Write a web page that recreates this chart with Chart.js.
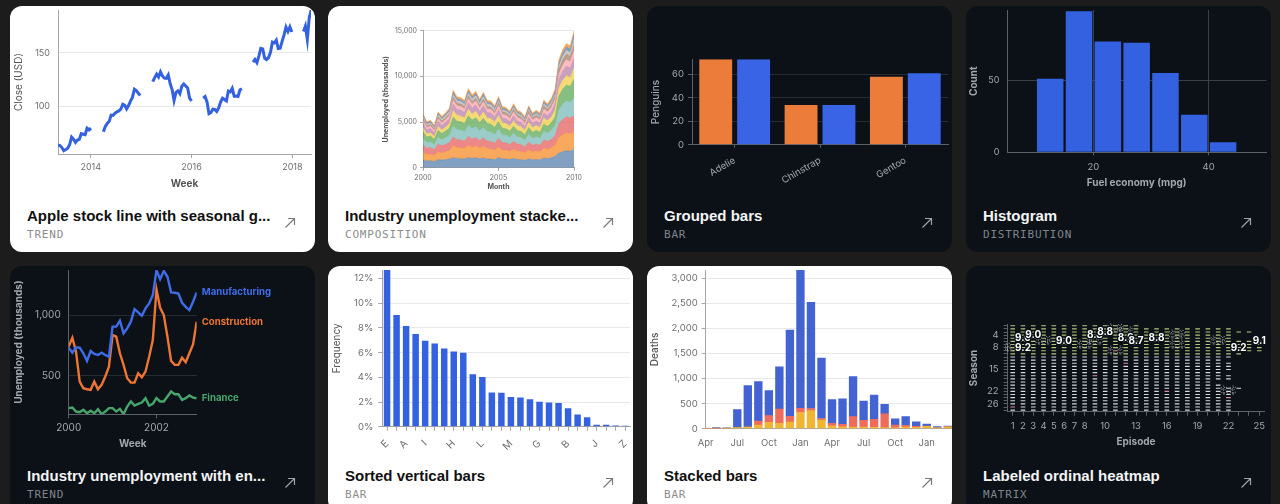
<!DOCTYPE html>
<html>
<head>
<meta charset="utf-8">
<script src="https://cdn.jsdelivr.net/npm/chart.js@4.4.1/dist/chart.umd.min.js"></script>
<style>
  html, body { margin: 0; padding: 0; background: #1c1c1c; width: 1280px; height: 504px; overflow: hidden; }
  .card { position: absolute; width: 305px; height: 246px; border-radius: 12px; overflow: hidden; }
  .light { background: #ffffff; }
  .dark { background: #0b1117; }
  .card canvas { position: absolute; left: 0; top: 0; }
  .title { position: absolute; left: 17px; top: 201px; font: bold 15px "Liberation Sans", Arial, sans-serif; line-height: 18px; white-space: nowrap; }
  .kind { position: absolute; left: 17px; top: 222px; font: 11px "DejaVu Sans Mono", monospace; line-height: 14px; letter-spacing: 0.8px; }
  .light .title { color: #111111; }
  .dark .title { color: #f3f4f5; }
  .light .kind { color: #8c8c8c; }
  .dark .kind { color: #7f858c; }
  .arrow { position: absolute; left: 274px; top: 211px; }
  .light .arrow { color: #7a7a7a; }
  .dark .arrow { color: #9ea3a9; }
</style>
</head>
<body>

<div class="card light" style="left:10px;top:6px">
  <canvas id="c1" width="305" height="192"></canvas>
  <div class="title">Apple stock line with seasonal g...</div>
  <div class="kind">TREND</div>
  <svg class="arrow" width="12" height="12" viewBox="0 0 12 12"><path d="M1.5 10.5 L10.5 1.5 M4 1.5 H10.5 V8" fill="none" stroke="currentColor" stroke-width="1.2"/></svg>
</div>

<div class="card light" style="left:328px;top:6px">
  <canvas id="c2" width="305" height="192"></canvas>
  <div class="title">Industry unemployment stacke...</div>
  <div class="kind">COMPOSITION</div>
  <svg class="arrow" width="12" height="12" viewBox="0 0 12 12"><path d="M1.5 10.5 L10.5 1.5 M4 1.5 H10.5 V8" fill="none" stroke="currentColor" stroke-width="1.2"/></svg>
</div>

<div class="card dark" style="left:647px;top:6px">
  <canvas id="c3" width="305" height="196"></canvas>
  <div class="title">Grouped bars</div>
  <div class="kind">BAR</div>
  <svg class="arrow" width="12" height="12" viewBox="0 0 12 12"><path d="M1.5 10.5 L10.5 1.5 M4 1.5 H10.5 V8" fill="none" stroke="currentColor" stroke-width="1.2"/></svg>
</div>

<div class="card dark" style="left:966px;top:6px">
  <canvas id="c4" width="305" height="192"></canvas>
  <div class="title">Histogram</div>
  <div class="kind">DISTRIBUTION</div>
  <svg class="arrow" width="12" height="12" viewBox="0 0 12 12"><path d="M1.5 10.5 L10.5 1.5 M4 1.5 H10.5 V8" fill="none" stroke="currentColor" stroke-width="1.2"/></svg>
</div>

<div class="card dark" style="left:10px;top:266px">
  <canvas id="c5" width="305" height="192"></canvas>
  <div class="title">Industry unemployment with en...</div>
  <div class="kind">TREND</div>
  <svg class="arrow" width="12" height="12" viewBox="0 0 12 12"><path d="M1.5 10.5 L10.5 1.5 M4 1.5 H10.5 V8" fill="none" stroke="currentColor" stroke-width="1.2"/></svg>
</div>

<div class="card light" style="left:328px;top:266px">
  <canvas id="c6" width="305" height="196"></canvas>
  <div class="title">Sorted vertical bars</div>
  <div class="kind">BAR</div>
  <svg class="arrow" width="12" height="12" viewBox="0 0 12 12"><path d="M1.5 10.5 L10.5 1.5 M4 1.5 H10.5 V8" fill="none" stroke="currentColor" stroke-width="1.2"/></svg>
</div>

<div class="card light" style="left:647px;top:266px">
  <canvas id="c7" width="305" height="196"></canvas>
  <div class="title">Stacked bars</div>
  <div class="kind">BAR</div>
  <svg class="arrow" width="12" height="12" viewBox="0 0 12 12"><path d="M1.5 10.5 L10.5 1.5 M4 1.5 H10.5 V8" fill="none" stroke="currentColor" stroke-width="1.2"/></svg>
</div>

<div class="card dark" style="left:966px;top:266px">
  <canvas id="c8" width="305" height="192"></canvas>
  <div class="title">Labeled ordinal heatmap</div>
  <div class="kind">MATRIX</div>
  <svg class="arrow" width="12" height="12" viewBox="0 0 12 12"><path d="M1.5 10.5 L10.5 1.5 M4 1.5 H10.5 V8" fill="none" stroke="currentColor" stroke-width="1.2"/></svg>
</div>

<script>
// ---- data ----

// Apple close, sampled every second week; one list per Apr-Dec stretch
const appleStarts = [2013.35, 2014.25, 2015.23, 2016.23, 2017.22, 2018.22]
const appleClose = [
  [64.3, 63.9, 62.0, 59.1, 60.1, 61.4, 64.6, 71.7, 69.7, 66.8, 69.0, 69.7, 75.0, 74.4, 74.0, 80.0, 78.4, 80.1],
  [76.7, 81.7, 84.5, 86.4, 92.2, 91.9, 94.0, 95.2, 96.1, 97.7, 102.2, 101.4, 98.0, 101.0, 105.2, 108.7, 116.3, 115.0, 112.7, 110.4],
  [123.3, 127.1, 130.3, 127.6, 132.5, 128.7, 126.6, 126.4, 129.6, 121.3, 115.9, 105.8, 113.3, 114.7, 112.1, 119.1, 121.1, 119.3, 117.5, 108.0, 105.3],
  [108.0, 109.5, 104.5, 93.5, 94.5, 97.7, 97.5, 95.6, 98.8, 104.3, 107.9, 106.7, 105.4, 114.6, 113.9, 117.1, 109.8, 109.9, 109.5, 115.8, 116.7],
  [141.4, 144.0, 141.0, 147.1, 154.3, 153.8, 145.0, 143.8, 145.7, 150.7, 160.1, 159.3, 161.9, 154.1, 154.5, 160.8, 166.9, 174.1, 170.0, 174.3, 169.6],
  [170.0, 175.0, 162.5, 183.0, 190.0]
]
const appleXTicks = [2014, 2016, 2018]
const appleYTicks = [100, 150]

// unemployment by industry, quarterly from Jan 2000 to Jan 2010 (thousands)
const unempIndustries = ['Wholesale and Retail Trade', 'Manufacturing', 'Leisure and hospitality', 'Business services',
  'Construction', 'Education and Health', 'Government', 'Finance', 'Self-employed', 'Other',
  'Transportation and Utilities', 'Information']
const unempBands = [
  [870,740,770,680, 900,830,890,960, 1100,1010,990,960, 1120,1030,1080,970, 1070,960,940,880, 1120,970,950,890, 1010,910,880,810, 980,860,910,860, 1070,1010,1090,1240, 1600,1750,1850,1810, 2000],
  [820,700,720,640, 850,780,830,900, 1300,1190,1180,1130, 1330,1220,1290,1150, 1270,1130,1120,1040, 1120,960,950,890, 1010,910,880,810, 980,860,910,860, 1070,1010,1090,1240, 1700,1860,1960,1920, 1900],
  [820,700,720,640, 850,780,830,900, 950,870,860,830, 970,900,940,840, 930,830,820,760, 950,820,810,760, 850,770,740,680, 830,730,770,730, 900,850,930,1050, 1520,1660,1750,1720, 1800],
  [720,610,630,560, 740,680,730,790, 1200,1100,1090,1040, 1230,1130,1180,1060, 1170,1040,1030,960, 1010,860,850,800, 900,810,790,720, 880,770,810,770, 950,900,980,1110, 1520,1660,1750,1720, 1900],
  [720,610,630,560, 740,680,730,790, 1000,920,910,870, 1030,940,990,890, 980,870,860,800, 840,720,710,670, 760,680,660,600, 730,650,680,650, 800,760,820,930, 1520,1660,1750,1720, 2100],
  [410,350,360,320, 430,390,420,460, 700,640,630,610, 710,660,690,620, 680,610,600,560, 670,580,570,530, 600,540,520,480, 580,520,540,520, 640,600,650,740, 900,980,1030,1010, 1200],
  [510,440,450,400, 530,490,520,570, 700,640,630,610, 710,660,690,620, 680,610,600,560, 620,530,520,490, 550,500,480,440, 540,470,500,470, 580,550,600,680, 900,980,1030,1010, 1100],
  [310,260,270,240, 320,290,310,340, 450,410,410,390, 460,420,450,400, 440,390,390,360, 450,390,380,360, 410,370,350,320, 390,350,370,350, 430,410,440,500, 630,680,720,700, 800],
  [210,180,180,160, 210,200,210,230, 300,270,270,260, 300,280,290,260, 290,260,260,240, 340,290,280,270, 300,270,260,240, 290,260,270,260, 320,300,330,370, 530,580,610,600, 700],
  [210,180,180,160, 210,200,210,230, 300,270,270,260, 300,280,290,260, 290,260,260,240, 230,190,190,180, 200,180,180,160, 200,170,180,170, 210,200,220,250, 350,390,410,400, 600],
  [150,130,140,120, 160,150,160,170, 250,230,220,210, 250,230,240,220, 240,210,210,200, 230,190,190,180, 200,180,180,160, 200,170,180,170, 210,200,220,250, 320,350,370,360, 500],
  [160,140,140,130, 170,150,170,180, 240,220,220,210, 250,240,240,210, 230,210,200,190, 220,200,190,180, 210,180,170,160, 190,170,180,170, 220,210,230,260, 330,360,380,370, 400]
]
const unempColors = ['#4c78a8', '#f58518', '#e45756', '#72b7b2', '#54a24b', '#eeca3b',
  '#b279a2', '#ff9da6', '#9d755d', '#bab0ac', '#4c78a8', '#f58518']
const unempXTicks = [2000, 2005, 2010]
const unempYTicks = [0, 5000, 10000, 15000]

// penguins
const penguinSpecies = ['Adelie', 'Chinstrap', 'Gentoo']
const penguinFemale = [73, 34, 58]
const penguinMale = [73, 34, 61]
const penguinYTicks = [0, 20, 40, 60]

// fuel economy histogram, 5 mpg bins
const mpgBinCenters = [12.5, 17.5, 22.5, 27.5, 32.5, 37.5, 42.5]
const mpgCounts = [51, 98, 77, 76, 55, 26, 7]
const mpgXTicks = [20, 40]
const mpgYTicks = [0, 50]

// three industries, monthly 2000-2002
const lineMonths = 36
const manufacturing = [734,692,736,734,687,624,706,681,673,692,673,659, 907,907,956,852,893,948,1052,1025,997,1058,1099,1168, 1374,1299,1368,1319,1190,1187,1181,1104,1071,1044,1113,1190]
const construction = [742,816,700,453,398,390,385,453,390,426,495,577, 838,824,687,591,481,445,445,522,489,536,659,797, 1214,1063,1003,824,624,591,591,651,613,687,761,948]
const finance = [234,239,206,201,220,192,212,192,225,184,206,234, 234,206,228,184,247,289,255,269,280,316,255,269, 316,289,289,330,371,349,349,302,316,338,321,316]
const lineXTicks = [2000, 2002]
const lineYTicks = [500, 1000]

// letter frequency, sorted
const letters = ['E','T','A','O','I','N','S','H','R','D','L','C','U','M','W','F','G','Y','P','B','V','K','J','X','Q','Z']
const letterFreq = [12.70, 9.06, 8.17, 7.51, 6.97, 6.75, 6.33, 6.09, 5.99, 4.25, 4.03, 2.78, 2.76, 2.41, 2.36, 2.23, 2.02, 1.97, 1.93, 1.49, 0.98, 0.77, 0.15, 0.15, 0.10, 0.07]
const shownLetters = ['E','A','I','H','L','M','G','B','J','Z']
const freqYTicks = [0, 2, 4, 6, 8, 10, 12]

// deaths by month, Apr 1854 - Mar 1856
const deathMonths = ['Apr','May','Jun','Jul','Aug','Sep','Oct','Nov','Dec','Jan','Feb','Mar',
  'Apr','May','Jun','Jul','Aug','Sep','Oct','Nov','Dec','Jan','Feb','Mar']
const deathDisease = [1, 12, 11, 359, 828, 788, 503, 844, 1725, 2761, 2120, 1205, 477, 508, 802, 382, 483, 189, 128, 178, 91, 42, 24, 15]
const deathWounds = [0, 0, 0, 0, 1, 81, 132, 287, 114, 83, 42, 32, 48, 49, 209, 134, 164, 276, 53, 33, 18, 2, 0, 0]
const deathOther = [5, 9, 6, 23, 30, 70, 128, 106, 131, 324, 361, 172, 57, 37, 31, 33, 25, 20, 18, 32, 28, 48, 19, 35]
const deathXTicks = [0, 3, 6, 9, 12, 15, 18, 21]
const deathYTicks = [0, 500, 1000, 1500, 2000, 2500, 3000]

// episode ratings by season
const seasonEpisodes = [13,22,24,22,22,25,25,25,25,23,22,21,22,22,22,21,22,22,20,21,23,22,22,22,22,22,22,22]
const seasonRating = [7.6,7.9,8.1,8.3,8.3,8.2,8.2,8.1,7.7,7.5,7.2,7.2,7.0,6.9,6.9,6.8,6.8,6.8,6.8,6.8,6.8,6.7,6.6,6.5,6.6,6.6,6.5,6.4]
const lowCells = [[9, 11], [7, 13], [22, 16], [24, 22], [27, 1], [13, 12], [17, 9]]
const topLabels = [[8, 2, '9.2'], [5, 2, '9.0'], [4, 3, '9.0'], [6, 6, '9.0'], [4, 9, '8.8'], [3, 10, '8.8'],
  [5, 12, '8.9'], [6, 13, '8.7'], [5, 15, '8.8'], [8, 23, '9.2'], [6, 25, '9.1']]
const faintLabels = [[8, 1, '9.0'], [6, 4, '8.9'], [7, 8, '8.8'], [6, 9, '9.0'], [2, 11, '8.9'], [9, 11, '8.8'],
  [3, 12, '8.8'], [4, 17, '8.9'], [7, 17, '8.8'], [6, 21, '8.9'], [22, 22, '8.8']]
const episodeTicks = [1,2,3,4,5,6,7,8,9,10,11,12,13,14,15,16,17,18,19,20,21,22,23,24,25]
const shownEpisodes = [1,2,3,4,5,6,7,8,10,13,16,19,22,25]
const seasonTicks = [1,2,3,4,5,6,7,8,9,10,11,12,13,14,15,16,17,18,19,20,21,22,23,24,25,26,27,28]
const shownSeasons = [4, 8, 15, 22, 26]

// ---- setup ----
Chart.defaults.font.family = 'Inter'
Chart.defaults.animation = false
Chart.defaults.responsive = false
Chart.defaults.events = []
Chart.defaults.plugins.legend.display = false
Chart.defaults.plugins.tooltip.enabled = false

const LIGHT = { tick: '#6e6e6e', title: '#555555', grid: '#e8e8e8', axis: '#a6a6a6' }
const DARK = { tick: '#a2a7ad', title: '#a2a7ad', grid: '#262c34', axis: '#5b626a' }

// fixed axis sizes so the plot areas land where the picture has them;
// label overhang padding is dropped, the canvas margins take care of it
const fixW = w => s => { s.width = w; s.paddingTop = 0; s.paddingBottom = 0 }
const fixH = h => s => { s.height = h; s.paddingLeft = 0; s.paddingRight = 0 }

function axis (theme, o) {
  const a = {
    type: o.type || 'linear',
    offset: !!o.offset,
    reverse: !!o.reverse,
    stacked: !!o.stacked,
    ticks: {
      color: theme.tick,
      font: { size: o.tickSize || 9.5 },
      padding: o.pad,
      autoSkip: false,
      maxRotation: o.rot || 0,
      minRotation: o.rot || 0
    },
    grid: {
      drawOnChartArea: !!o.gridOn,
      color: o.gridColor || theme.grid,
      drawTicks: !!o.tick,
      tickLength: o.tick || 0,
      tickColor: theme.axis,
      offset: false
    },
    border: { display: true, color: theme.axis },
    title: { display: false }
  }
  if (o.min !== undefined) a.min = o.min
  if (o.max !== undefined) a.max = o.max
  if (o.label) a.ticks.callback = o.label
  if (o.values) a.afterBuildTicks = s => { s.ticks = o.values.map(v => ({ value: v })) }
  if (o.fit) a.afterFit = o.fit
  if (o.title) {
    a.title = {
      display: true,
      text: o.title,
      color: theme.title,
      font: { size: o.titleSize || 10, weight: o.titleWeight || 'bold' },
      padding: o.titlePad
    }
  }
  return a
}

// ---- 1. Apple stock ----
const applePoints = []
appleStarts.forEach((start, s) => {
  if (s > 0) applePoints.push({ x: start - 0.1, y: null })
  appleClose[s].forEach((v, i) => applePoints.push({ x: start + i / 26, y: v }))
})

new Chart(document.getElementById('c1'), {
  type: 'line',
  data: {
    datasets: [{
      data: applePoints,
      borderColor: '#3461e0',
      borderWidth: 3,
      pointRadius: 0,
      spanGaps: false,
      tension: 0
    }]
  },
  options: {
    layout: { padding: { top: 4, right: 4, left: 0, bottom: 0 } },
    scales: {
      x: axis(LIGHT, { min: 2013.35, max: 2018.37, values: appleXTicks, label: v => String(v), tick: 4, pad: 4, tickSize: 9,
        fit: fixH(44), title: 'Week', titlePad: { top: 0, bottom: 8 } }),
      y: axis(LIGHT, { min: 56, max: 190, values: appleYTicks, gridOn: true, pad: 8, tickSize: 9,
        fit: fixW(48), title: 'Close (USD)', titleWeight: 'normal', titlePad: { top: 3, bottom: 0 } })
    }
  }
})

// ---- 2. stacked area ----
const unempX = unempBands[0].map((_, i) => 2000 + i / 4)

new Chart(document.getElementById('c2'), {
  type: 'line',
  data: {
    datasets: unempBands.map((band, b) => ({
      label: unempIndustries[b],
      data: band.map((v, i) => ({ x: unempX[i], y: v })),
      backgroundColor: unempColors[b] + 'b3',
      borderColor: unempColors[b] + 'b3',
      borderWidth: 0.5,
      pointRadius: 0,
      tension: 0,
      fill: b === 0 ? 'origin' : '-1'
    }))
  },
  options: {
    layout: { padding: { top: 24.7, right: 59, left: 48, bottom: 0 } },
    scales: {
      x: axis(LIGHT, { min: 2000, max: 2010, values: unempXTicks, label: v => String(v), tick: 3, pad: 3, tickSize: 7,
        fit: fixH(30.3), title: 'Month', titleSize: 7, titlePad: { top: 0, bottom: 6.5 } }),
      y: axis(LIGHT, { min: 0, max: 15000, values: unempYTicks, stacked: true, gridOn: true, tick: 3, pad: 3, tickSize: 7,
        fit: fixW(47), title: 'Unemployed (thousands)', titleSize: 7, titlePad: { top: 5.8, bottom: 0 } })
    }
  }
})

// ---- 3. grouped bars ----
new Chart(document.getElementById('c3'), {
  type: 'bar',
  data: {
    labels: penguinSpecies,
    datasets: [
      { label: 'Female', data: penguinFemale, backgroundColor: '#eb7c3a' },
      { label: 'Male', data: penguinMale, backgroundColor: '#3964e5' }
    ]
  },
  options: {
    datasets: { bar: { categoryPercentage: 0.888, barPercentage: 0.868 } },
    layout: { padding: { top: 53.3, right: 4, left: 0, bottom: 0 } },
    scales: {
      x: axis(DARK, { type: 'category', offset: true, rot: 30, tick: 3, pad: 7, tickSize: 9.5, fit: fixH(57.3) }),
      y: axis(DARK, { min: 0, max: 73, values: penguinYTicks, gridOn: true, tick: 4, pad: 4, tickSize: 9.5,
        fit: fixW(45), title: 'Penguins', titleWeight: '500', titlePad: { top: 3, bottom: 0 } })
    }
  }
})

// ---- 4. histogram ----
new Chart(document.getElementById('c4'), {
  type: 'bar',
  data: {
    datasets: [{
      data: mpgBinCenters.map((x, i) => ({ x: x, y: mpgCounts[i] })),
      backgroundColor: '#3461e0',
      categoryPercentage: 1,
      barPercentage: 0.92
    }]
  },
  options: {
    layout: { padding: { top: 4, right: 4.7, left: 0, bottom: 0 } },
    scales: {
      x: axis(DARK, { min: 5, max: 50, values: mpgXTicks, gridOn: true, gridColor: '#3a4049', tick: 3, pad: 6, tickSize: 9.5,
        fit: fixH(45.7), title: 'Fuel economy (mpg)', titlePad: { top: 0, bottom: 9 } }),
      y: axis(DARK, { min: 0, max: 98.8, values: mpgYTicks, gridOn: true, gridColor: '#3a4049', pad: 7.5, tickSize: 9,
        fit: fixW(41), title: 'Count', titlePad: { top: 2, bottom: 0 } })
    }
  }
})

// ---- 5. lines with end labels ----
const lineX = manufacturing.map((_, i) => 2000 + i / 12)
const lineSeries = [
  { label: 'Manufacturing', values: manufacturing, color: '#3f6ce9' },
  { label: 'Construction', values: construction, color: '#ef7532' },
  { label: 'Finance', values: finance, color: '#47a56c' }
]

const endLabels = {
  id: 'endLabels',
  afterDatasetsDraw (chart) {
    const ctx = chart.ctx
    ctx.save()
    ctx.font = 'bold 9.6px Inter'
    ctx.textBaseline = 'middle'
    chart.data.datasets.forEach((ds, i) => {
      const pts = chart.getDatasetMeta(i).data
      const last = pts[pts.length - 1]
      ctx.fillStyle = ds.borderColor
      ctx.fillText(ds.label, last.x + 5, last.y)
    })
    ctx.restore()
  }
}

new Chart(document.getElementById('c5'), {
  type: 'line',
  data: {
    datasets: lineSeries.map(s => ({
      label: s.label,
      data: s.values.map((v, i) => ({ x: lineX[i], y: v })),
      borderColor: s.color,
      borderWidth: 2.4,
      pointRadius: 0,
      tension: 0
    }))
  },
  options: {
    layout: { padding: { top: 4, right: 118.3, left: 0, bottom: 0 } },
    scales: {
      x: axis(DARK, { min: 2000, max: 2000 + (lineMonths - 1) / 12, values: lineXTicks, label: v => String(v), tick: 4, pad: 4, tickSize: 10,
        fit: fixH(43.7), title: 'Week', titlePad: { top: 0, bottom: 8.3 } }),
      y: axis(DARK, { min: 183, max: 1375, values: lineYTicks, gridOn: true, pad: 8, tickSize: 10,
        fit: fixW(58.7), title: 'Unemployed (thousands)', titlePad: { top: 3, bottom: 0 } })
    }
  },
  plugins: [endLabels]
})

// ---- 6. sorted bars ----
new Chart(document.getElementById('c6'), {
  type: 'bar',
  data: {
    labels: letters,
    datasets: [{ data: letterFreq, backgroundColor: '#3461e0', categoryPercentage: 1, barPercentage: 0.68 }]
  },
  options: {
    layout: { padding: { top: 4, right: 3, left: 0, bottom: 0 } },
    scales: {
      x: axis(LIGHT, { type: 'category', offset: true, rot: 45, tick: 4, pad: 7, tickSize: 10,
        label: (v, i) => shownLetters.includes(letters[i]) ? letters[i] : '',
        fit: fixH(35.3) }),
      y: axis(LIGHT, { min: 0, max: 12.7, values: freqYTicks, gridOn: true, tick: 4, pad: 5, tickSize: 9.5,
        label: v => v + '%',
        fit: fixW(54.3), title: 'Frequency', titleWeight: 'normal', titlePad: { top: 3, bottom: 0 } })
    }
  }
})

// ---- 7. stacked bars ----
const deathSeries = [
  { label: 'Other', values: deathOther, color: '#f1b534' },
  { label: 'Wounds', values: deathWounds, color: '#ef6c5c' },
  { label: 'Disease', values: deathDisease, color: '#4363d3' }
]

new Chart(document.getElementById('c7'), {
  type: 'bar',
  data: {
    datasets: deathSeries.map(s => ({
      label: s.label,
      data: s.values.map((v, i) => ({ x: i, y: v })),
      backgroundColor: s.color,
      barThickness: 7.7
    }))
  },
  options: {
    layout: { padding: { top: 4, right: 0, left: 0, bottom: 0 } },
    scales: {
      x: axis(LIGHT, { min: 0, max: 23.4, values: deathXTicks, stacked: true, pad: 9, tickSize: 9.5,
        label: v => deathMonths[v], fit: fixH(33.3) }),
      y: axis(LIGHT, { min: 0, max: 3168, values: deathYTicks, stacked: true, gridOn: true, tick: 4, pad: 4, tickSize: 9.5,
        fit: fixW(58.7), title: 'Deaths', titleWeight: '500', titlePad: { top: 2, bottom: 0 } })
    }
  }
})

// ---- 8. labeled heatmap ----
const heatCells = []
seasonEpisodes.forEach((count, s) => {
  for (let e = 1; e <= count; e++) {
    const low = lowCells.some(c => c[0] === s + 1 && c[1] === e)
    heatCells.push({ x: e, y: s + 1, c: low ? '#e38ea0' : (seasonRating[s] >= 7.5 ? '#b4c67c' : '#d6dae0') })
  }
})

const heatLabels = {
  id: 'heatLabels',
  afterDatasetsDraw (chart) {
    const { ctx, scales } = chart
    ctx.save()
    ctx.font = 'bold 10px Inter'
    ctx.textAlign = 'center'
    ctx.textBaseline = 'middle'
    ctx.setLineDash([1, 2])
    ctx.lineWidth = 0.6
    ctx.strokeStyle = 'rgba(230, 232, 234, 0.8)'
    faintLabels.forEach(l => {
      ctx.strokeText(l[2], scales.x.getPixelForValue(l[1]), scales.y.getPixelForValue(l[0]))
    })
    ctx.setLineDash([])
    topLabels.forEach(l => {
      const x = scales.x.getPixelForValue(l[1])
      const y = scales.y.getPixelForValue(l[0])
      ctx.lineWidth = 2.5
      ctx.strokeStyle = '#0b1117'
      ctx.strokeText(l[2], x, y)
      ctx.fillStyle = '#ffffff'
      ctx.fillText(l[2], x, y)
    })
    ctx.restore()
  }
}

new Chart(document.getElementById('c8'), {
  type: 'scatter',
  data: {
    datasets: [{
      data: heatCells,
      pointStyle: 'line',
      pointRadius: 2.3,
      borderWidth: 1.2,
      borderColor: ctx => (ctx.raw ? ctx.raw.c : '#d6dae0')
    }]
  },
  options: {
    layout: { padding: { top: 58.2, right: 6.6, left: 0, bottom: 0 } },
    scales: {
      x: axis(DARK, { min: 0.5, max: 25.5, values: episodeTicks, tick: 4, pad: 5, tickSize: 9.5,
        label: v => shownEpisodes.includes(v) ? String(v) : '',
        fit: fixH(46.3), title: 'Episode', titlePad: { top: 0, bottom: 10.3 } }),
      y: axis(DARK, { min: 0.5, max: 28.5, reverse: true, values: seasonTicks, tick: 4, pad: 5, tickSize: 9.5,
        label: v => shownSeasons.includes(v) ? String(v) : '',
        fit: fixW(41.6), title: 'Season', titlePad: { top: 2, bottom: 0 } })
    }
  },
  plugins: [heatLabels]
})
</script>
</body>
</html>
